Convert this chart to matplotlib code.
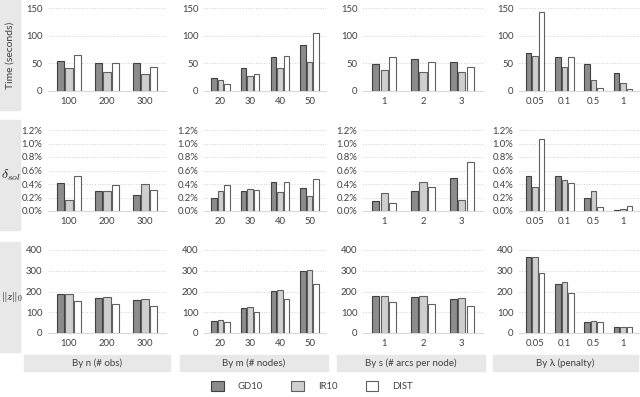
import numpy as np
import matplotlib
matplotlib.use('Agg')
import matplotlib.pyplot as plt
from matplotlib.patches import Patch, Rectangle
from matplotlib.ticker import FuncFormatter

plt.rcParams['font.family'] = ['Lato', 'DejaVu Sans']
plt.rcParams['mathtext.fontset'] = 'cm'

# categories of each column
col_titles = ['By n (# obs)', 'By m (# nodes)', 'By s (# arcs per node)', 'By λ (penalty)']
col_cats = [['100', '200', '300'],
            ['20', '30', '40', '50'],
            ['1', '2', '3'],
            ['0.05', '0.1', '0.5', '1']]
series = ['GD10', 'IR10', 'DIST']

# values, all 14 categories in column order (n, m, s, lambda)
time_gd10 = [55, 51, 51, 24, 41, 61, 84, 49, 57, 52, 69, 62, 48, 33]
time_ir10 = [41, 34, 31, 19, 28, 41, 53, 38, 34, 34, 64, 43, 19, 15]
time_dist = [65, 50, 43, 12, 31, 64, 105, 62, 53, 44, 142, 62, 6, 3]

dsol_gd10 = [0.42, 0.29, 0.23, 0.19, 0.30, 0.43, 0.34, 0.15, 0.30, 0.49, 0.52, 0.52, 0.20, 0.02]
dsol_ir10 = [0.16, 0.29, 0.40, 0.30, 0.33, 0.28, 0.22, 0.26, 0.43, 0.16, 0.35, 0.46, 0.29, 0.03]
dsol_dist = [0.52, 0.38, 0.31, 0.39, 0.31, 0.43, 0.48, 0.12, 0.36, 0.72, 1.07, 0.41, 0.06, 0.07]

z_gd10 = [188, 170, 157, 60, 122, 202, 298, 176, 173, 166, 365, 238, 53, 28]
z_ir10 = [188, 172, 162, 61, 124, 206, 303, 177, 177, 168, 366, 244, 56, 29]
z_dist = [152, 138, 128, 54, 103, 165, 236, 148, 139, 130, 288, 191, 51, 29]

rows = [
    ([time_gd10, time_ir10, time_dist], [0, 50, 100, 150], 'Time (seconds)'),
    ([dsol_gd10, dsol_ir10, dsol_dist], [0, 0.2, 0.4, 0.6, 0.8, 1.0, 1.2], r'$\delta_{sol}$'),
    ([z_gd10, z_ir10, z_dist], [0, 100, 200, 300, 400], r'$\Vert z\Vert_0$'),
]

fills = ['#8c8c8c', '#cfcfcf', 'white']
edges = ['#404040', '#606060', '#606060']
txt = '#404040'

W, H = 640, 397
fig = plt.figure(figsize=(W / 100, H / 100), dpi=100)


def box(x0, y0, x1, y1):
    return [x0 / W, 1 - y1 / H, (x1 - x0) / W, (y1 - y0) / H]


col_x = [(48, 166), (204, 326), (363, 483), (519, 639)]
row_y = [(8, 91), (130, 211), (250, 333)]
row_box = [(0, 110), (120, 230), (242, 352)]
label_size = [7.5, 10, 8]

for r, (vals, yticks, ylab) in enumerate(rows):
    # grey row label box
    fig.patches.append(Rectangle((0, 1 - row_box[r][1] / H), 20 / W,
                                 (row_box[r][1] - row_box[r][0]) / H,
                                 transform=fig.transFigure, color='#e8e8e8', zorder=0))
    yc = 1 - (row_box[r][0] + row_box[r][1]) / 2 / H
    if r == 0:
        fig.text(10 / W, yc, ylab, rotation=90, ha='center', va='center', fontsize=label_size[r], color=txt)
    else:
        fig.text(1 / W, yc, ylab, ha='left', va='center', fontsize=label_size[r], color='#222222')

    start = 0
    for c, cats in enumerate(col_cats):
        ax = fig.add_axes(box(col_x[c][0], row_y[r][0], col_x[c][1], row_y[r][1]))
        k = len(cats)
        x = np.arange(k)
        for i in range(3):
            v = vals[i][start:start + k]
            ax.bar(x + (i - 1) * 0.22, v, width=0.19, color=fills[i],
                   edgecolor=edges[i], linewidth=0.8, zorder=3)
        start += k
        ax.set_xlim(-0.55, k - 0.45)
        ax.set_ylim(0, yticks[-1])
        ax.set_yticks(yticks)
        ax.set_xticks(x)
        ax.set_xticklabels(cats)
        if r == 1:
            ax.yaxis.set_major_formatter(FuncFormatter(lambda v, p: '%.1f%%' % v))
        ax.tick_params(length=0, labelsize=6.8, labelcolor=txt, pad=4)
        ax.grid(axis='y', linestyle=':', color='#d0d0d0', linewidth=0.7, zorder=0)
        for s in ['top', 'right', 'left']:
            ax.spines[s].set_visible(False)
        ax.spines['bottom'].set_color('#d9d9d9')

# column label boxes
col_box = [(24, 170), (180, 328), (337, 485), (493, 638)]
for c, t in enumerate(col_titles):
    x0, x1 = col_box[c]
    fig.patches.append(Rectangle((x0 / W, 1 - 371 / H), (x1 - x0) / W, 16 / H,
                                 transform=fig.transFigure, color='#e8e8e8', zorder=0))
    fig.text((x0 + x1) / 2 / W, 1 - 363 / H, t, ha='center', va='center', fontsize=7, color=txt)

handles = [Patch(facecolor=fills[i], edgecolor=edges[i], linewidth=0.8) for i in range(3)]
fig.legend(handles, series, loc='center', bbox_to_anchor=(312 / W, 1 - 386 / H), ncol=3,
           frameon=False, fontsize=6.8, handlelength=1.3, handleheight=1.3,
           columnspacing=3.0, handletextpad=1.5, labelcolor=txt)

fig.savefig('out.png', dpi=100)
